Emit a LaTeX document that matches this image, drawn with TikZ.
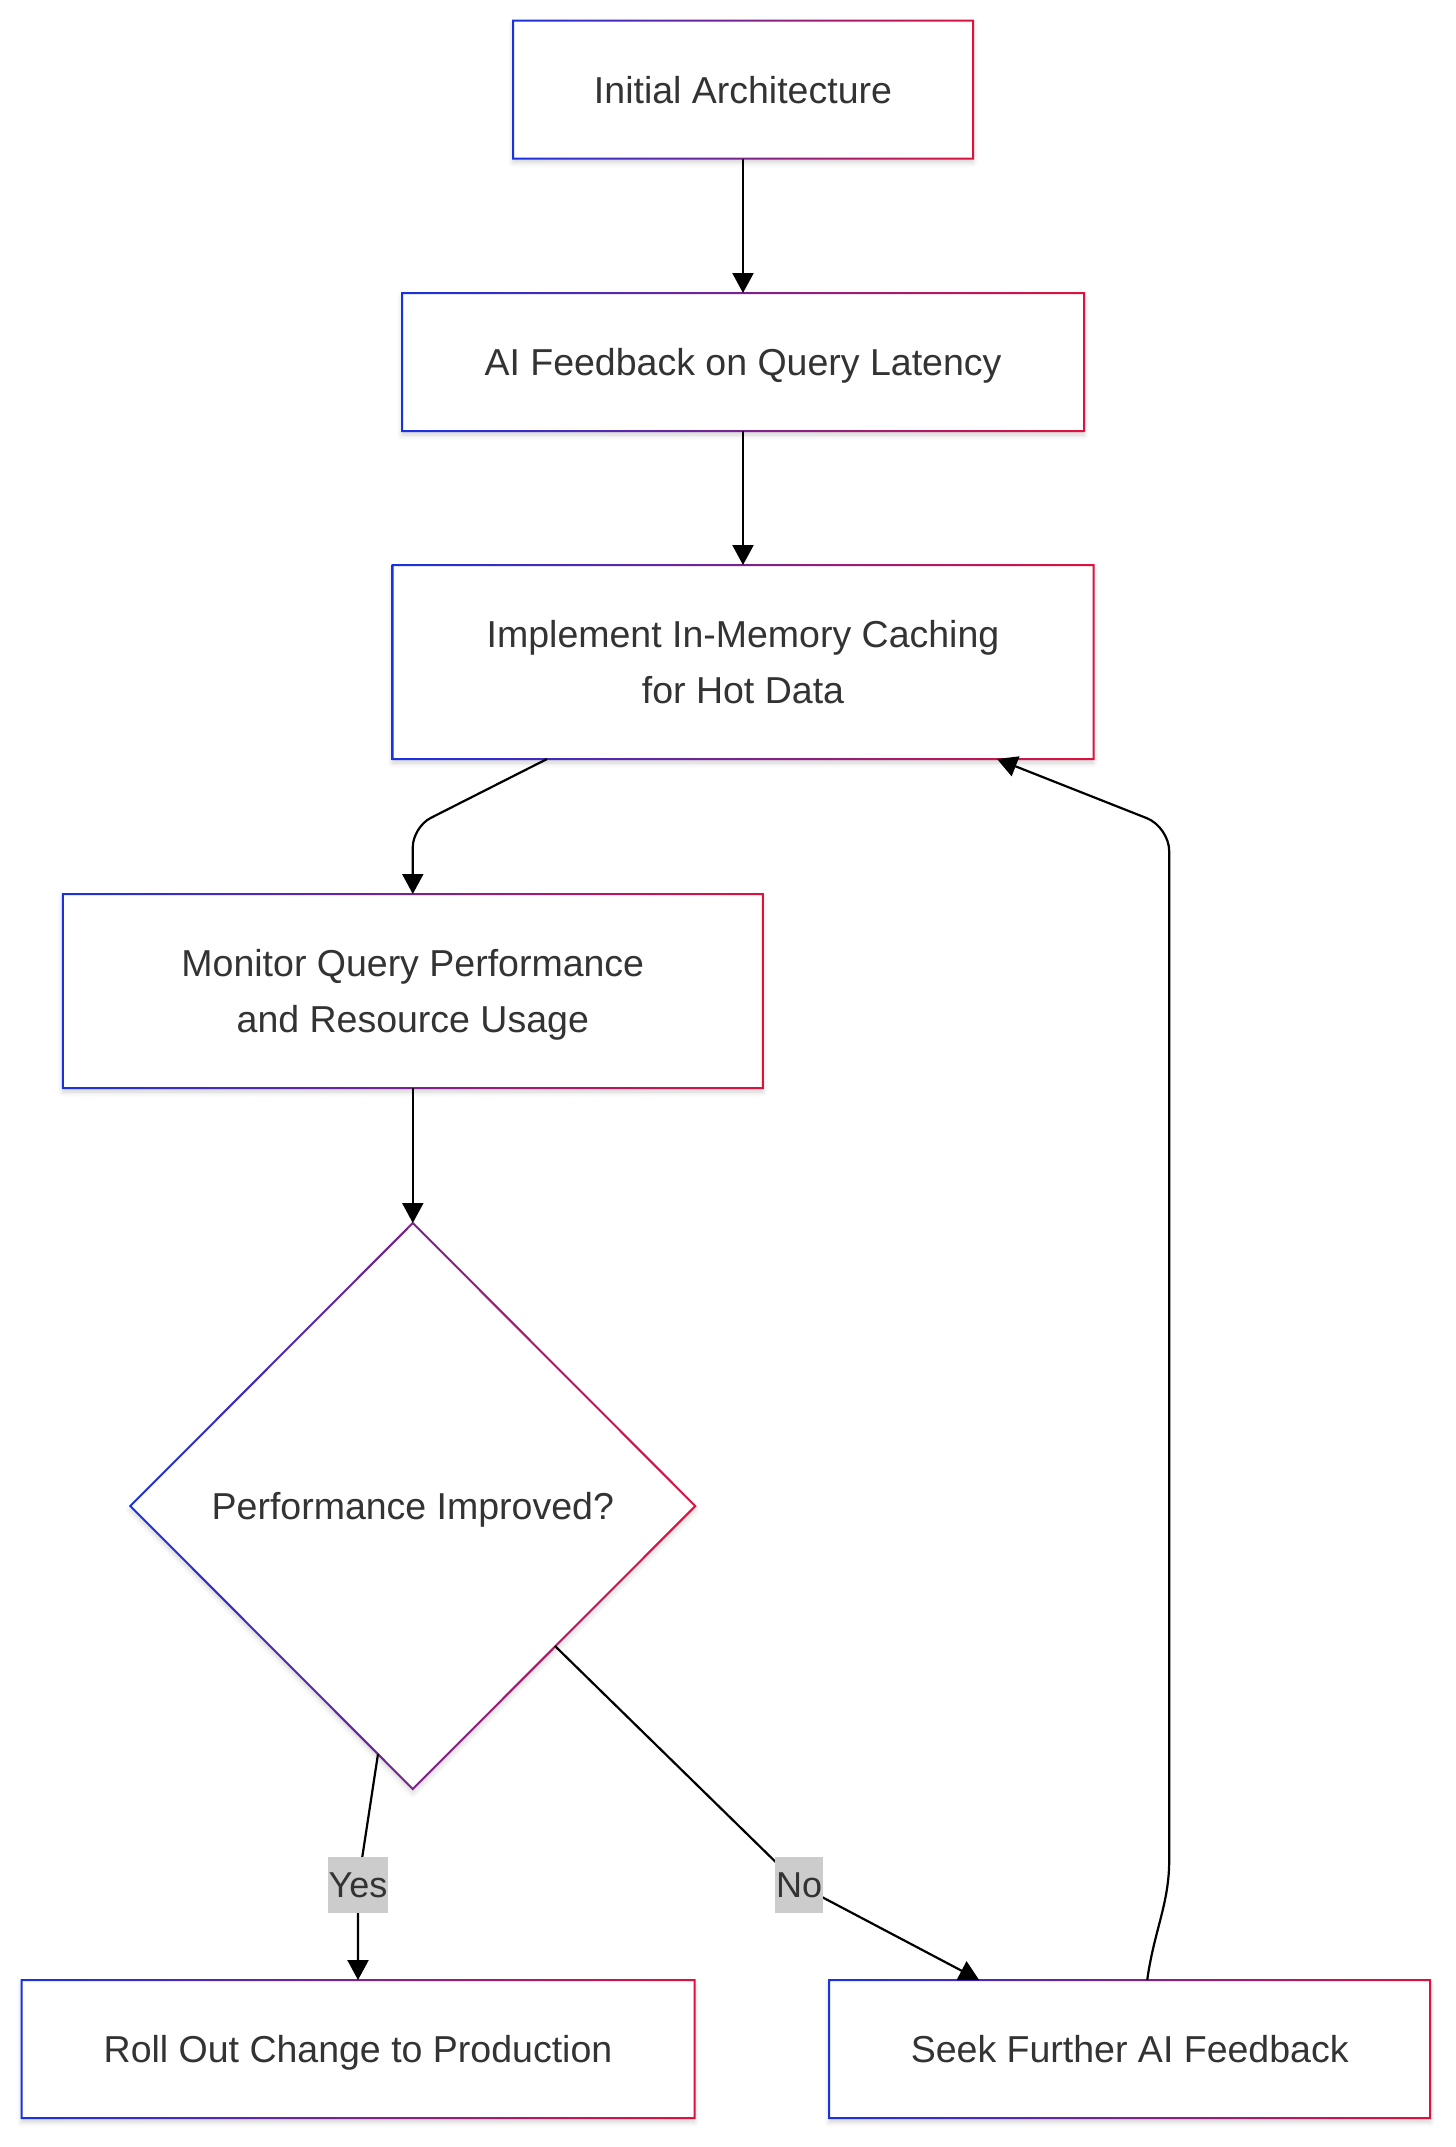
\documentclass[tikz,border=0pt]{standalone}
\usepackage{fontspec}
\setmainfont{Liberation Sans}
\usetikzlibrary{arrows.meta,shapes.geometric,shadows.blur,calc}
\definecolor{cblue}{RGB}{24,50,225}
\definecolor{cred}{RGB}{222,18,60}
\definecolor{txt}{RGB}{51,51,51}
\definecolor{lblbg}{RGB}{204,204,204}
\tikzset{
  shadowed/.style={blur shadow={shadow xshift=0pt, shadow yshift=-2pt, shadow blur radius=2.5pt, shadow opacity=18}},
  nodebox/.style={rectangle, fill=white, draw=none, inner sep=0pt, outer sep=0pt, align=center, text=txt,
    font=\fontsize{18.75pt}{28pt}\selectfont, text depth=0pt, shadowed},
  decision/.style={diamond, aspect=1, fill=white, draw=none, inner sep=0pt, outer sep=0pt, align=center, text=txt,
    font=\fontsize{18.75pt}{28pt}\selectfont, text depth=0pt, text height=13.5pt, shadowed},
  arr/.style={draw=black, line width=1.1pt, -{Triangle[length=10pt,width=10.5pt]}},
  edgelbl/.style={fill=lblbg, text=txt, inner ysep=0pt, inner xsep=0.5pt, minimum height=28pt,
    font=\fontsize{18pt}{22pt}\selectfont},
}
\newcommand\gradrect[1]{%
  \shade[left color=cblue, right color=cred, even odd rule]
    ([shift={(-0.5pt,0.5pt)}]#1.north west) rectangle ([shift={(0.5pt,-0.5pt)}]#1.south east)
    ([shift={(0.5pt,-0.5pt)}]#1.north west) rectangle ([shift={(-0.5pt,0.5pt)}]#1.south east);}
\newcommand\graddiamond[1]{%
  \shade[left color=cblue, right color=cred, even odd rule]
    ([yshift=0.71pt]#1.north) -- ([xshift=0.71pt]#1.east) -- ([yshift=-0.71pt]#1.south) -- ([xshift=-0.71pt]#1.west) -- cycle
    ([yshift=-0.71pt]#1.north) -- ([xshift=-0.71pt]#1.east) -- ([yshift=0.71pt]#1.south) -- ([xshift=0.71pt]#1.west) -- cycle;}
\begin{document}
\begin{tikzpicture}[x=0.5pt,y=-0.5pt]
\useasboundingbox (0,0) rectangle (1456,2147);
% nodes
\node[nodebox, text height=13.5pt, minimum width=230pt, minimum height=69pt] (A) at (743,89.5) {Initial Architecture};
\node[nodebox, text height=13.5pt, minimum width=341pt, minimum height=69pt] (B) at (743,362) {AI Feedback on Query Latency};
\node[nodebox, minimum width=350.5pt, minimum height=97pt] (C) at (743,662) {Implement In-Memory Caching\\for Hot Data};
\node[nodebox, minimum width=350pt, minimum height=97pt] (D) at (412.8,991) {Monitor Query Performance\\and Resource Usage};
\node[decision, minimum width=282.5pt, minimum height=283pt] (E) at (412.8,1506) {Performance Improved?};
\node[nodebox, text height=13.5pt, minimum width=336.5pt, minimum height=69pt] (F) at (358,2049) {Roll Out Change to Production};
\node[nodebox, text height=13.5pt, minimum width=300.5pt, minimum height=69pt] (G) at (1129.7,2049) {Seek Further AI Feedback};
% borders
\gradrect{A}\gradrect{B}\gradrect{C}\gradrect{D}\gradrect{F}\gradrect{G}
\graddiamond{E}
% helper coordinates
\coordinate (cdbend) at ([yshift=33.5pt]D.north);
\coordinate (ylabpos) at ([yshift=47.5pt]F.north);
\coordinate (nlabpos) at ([shift={(-15pt,47.5pt)}]G.north west);
\coordinate (gs) at ([xshift=159pt]G.north west);
\coordinate (gv) at ([shift={(170pt,60pt)}]G.north west);
\coordinate (cbelow) at ([yshift=-34pt]C.south);
\coordinate (gc) at (gv |- cbelow);
\coordinate (cend) at ([xshift=-48.25pt]C.south east);
% edges
\draw[arr] (A.south) -- (B.north);
\draw[arr] (B.south) -- (C.north);
\draw[arr, rounded corners=10pt] ([xshift=-98pt]C.south) -- (cdbend) -- (D.north);
\draw[arr] (D.south) -- (E.north);
\draw[arr] ([shift={(-17.4pt,17.5pt)}]E.south) -- (ylabpos) -- (F.north);
\draw[arr] ([shift={(71.1pt,71.5pt)}]E.south) -- (nlabpos) -- ([xshift=75pt]G.north west);
\draw[arr] (gs) .. controls ([shift={(3.5pt,25pt)}]gs) and ([yshift=-22pt]gv) .. (gv)
  [rounded corners=12pt] -- (gc) -- (cend);
% edge labels
\node[edgelbl] (ylab) at (ylabpos) {Yes};
\node[edgelbl] (nlab) at (nlabpos) {No};
\end{tikzpicture}
\end{document}
